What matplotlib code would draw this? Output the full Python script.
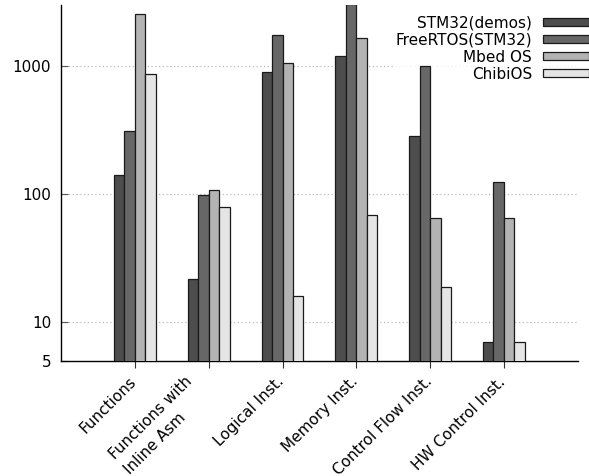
import matplotlib
matplotlib.use("Agg")
import matplotlib.pyplot as plt
import numpy as np

categories = ["Functions", "Functions with\nInline Asm", "Logical Inst.",
              "Memory Inst.", "Control Flow Inst.", "HW Control Inst."]
series_names = ["STM32(demos)", "FreeRTOS(STM32)", "Mbed OS", "ChibiOS"]
stm32 = [141, 22, 903, 1190, 285, 7]
freertos = [312, 98, 1737, 3030, 994, 124]
mbed = [2548, 108, 1049, 1663, 65, 65]
chibios = [871, 80, 16, 69, 19, 7]
series = [stm32, freertos, mbed, chibios]
colors = ["#4d4d4d", "#676767", "#b3b3b3", "#e5e5e5"]

plt.rcParams['font.family'] = ['DejaVu Sans']
fig = plt.figure(figsize=(5.89, 4.76), dpi=100)
ax = fig.add_axes([0.1036, 0.2416, 0.8774, 0.7479])

x = np.arange(len(categories))
w = 0.142
for i, (vals, name, c) in enumerate(zip(series, series_names, colors)):
    ax.bar(x + (i - 1.5) * w, vals, width=w, color=c, edgecolor="#1a1a1a",
           linewidth=0.9, label=name, zorder=3)

ax.set_yscale("log")
ax.set_ylim(5, 3000)
ax.set_xlim(-1, 6)
ax.set_yticks([5, 10, 100, 1000])
ax.set_yticklabels(["5", "10", "100", "1000"])
ax.yaxis.set_minor_locator(matplotlib.ticker.NullLocator())
ax.set_xticks(x)
ax.set_xticklabels([""] * len(categories))
for xi, cat in zip(x, categories):
    dx = -24 if "\n" in cat else -6
    ax.annotate(cat, xy=(xi, 0), xycoords=ax.get_xaxis_transform(),
                xytext=(dx, -13), textcoords="offset pixels",
                rotation=45, ha="right", va="top", rotation_mode="anchor",
                fontsize=11, multialignment="left", linespacing=1.45,
                annotation_clip=False)
ax.tick_params(axis="y", direction="in", length=5, labelsize=11, color="#555555", pad=7)
ax.tick_params(axis="x", direction="out", length=5, color="#333333")
for s in ["top", "right"]:
    ax.spines[s].set_visible(False)
for s in ["left", "bottom"]:
    ax.spines[s].set_linewidth(1.0)
for yv in [10, 100, 1000]:
    ax.axhline(yv, color="#bbbbbb", linestyle=(0, (1, 2)), linewidth=0.9, zorder=1)

leg = ax.legend(loc="upper right", bbox_to_anchor=(1.0 + 2 / 589, 1 - 13 / 476),
                bbox_transform=fig.transFigure, markerfirst=False, frameon=True,
                fontsize=11, handlelength=3.0, handleheight=0.45, labelspacing=0.14,
                borderaxespad=0, handletextpad=0.7, borderpad=0.15,
                fancybox=False)
leg.get_frame().set_edgecolor("white")
leg.get_frame().set_linewidth(0)
leg.set_zorder(2)
for t in leg.get_texts():
    t.set_ha("right")

fig.savefig("out.png", dpi=100)
